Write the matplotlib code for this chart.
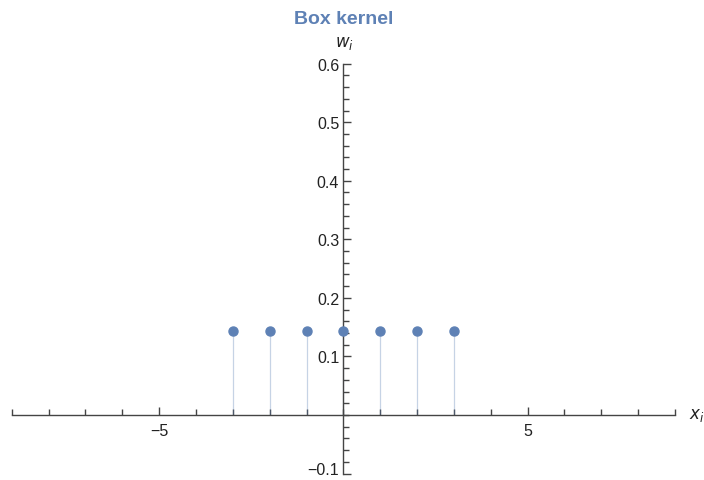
import numpy as np
import matplotlib.pyplot as plt
import matplotlib.transforms as mtransforms
from matplotlib.ticker import MultipleLocator, FixedLocator

plt.rcParams['font.family'] = ['Liberation Sans', 'DejaVu Sans']

xs = [-3, -2, -1, 0, 1, 2, 3]
weights = [0.1429, 0.1429, 0.1429, 0.1429, 0.1429, 0.1429, 0.1429]
x_tick_labels = ["\u22125", "5"]
y_ticks = [-0.1, 0.1, 0.2, 0.3, 0.4, 0.5, 0.6]

blue = "#5E81B5"
axis_col = "#444444"

fig = plt.figure(figsize=(7.04, 4.81), dpi=100)
ax = fig.add_axes([11.7 / 704, 6.5 / 481, (675 - 11.7) / 704, (474.5 - 64.7) / 481])

ax.vlines(xs, 0, weights, color=blue, alpha=0.35, lw=0.9)
ax.plot(xs, weights, "o", color=blue, ms=6.5, mec=blue, zorder=3)

ax.set_xlim(-9, 9)
ax.set_ylim(-0.1, 0.6)

for s in ["top", "right"]:
    ax.spines[s].set_visible(False)
ax.spines["left"].set_position(("data", 0))
ax.spines["bottom"].set_position(("data", 0))
for s in ["left", "bottom"]:
    ax.spines[s].set_color(axis_col)
    ax.spines[s].set_linewidth(1.0)

ax.xaxis.set_major_locator(FixedLocator([-5, 5]))
ax.set_xticklabels(x_tick_labels)
ax.xaxis.set_minor_locator(MultipleLocator(1))
ax.yaxis.set_major_locator(FixedLocator(y_ticks))
ax.set_yticklabels([f"{v:.1f}".replace("-", "\u2212") for v in y_ticks])
ax.yaxis.set_minor_locator(MultipleLocator(0.02))

ax.tick_params(which="both", direction="in", color=axis_col, labelsize=11.5,
               labelcolor="#222222")
ax.tick_params(axis="x", which="major", length=6, width=1, pad=6)
ax.tick_params(axis="x", which="minor", length=4, width=1)
ax.tick_params(axis="y", which="major", length=6, width=1, pad=3)
ax.tick_params(axis="y", which="minor", length=4, width=1)

# lift the bottom label a little so it stays inside the figure
lbl = ax.get_yticklabels()[0]
lbl.set_transform(lbl.get_transform() + mtransforms.ScaledTranslation(0, 4 / 72, fig.dpi_scale_trans))

fig.text(344 / 704, 1 - 20 / 481, "Box kernel", color=blue, fontsize=14,
         fontweight="bold", ha="center", va="center")
fig.text(344 / 704, 1 - 44 / 481, "$w_i$", fontsize=12, ha="center", va="center",
         color="#222222")
fig.text(689 / 704, 1 - 416 / 481, "$x_i$", fontsize=12, ha="left", va="center",
         color="#222222")

fig.savefig("out.png", dpi=100)
